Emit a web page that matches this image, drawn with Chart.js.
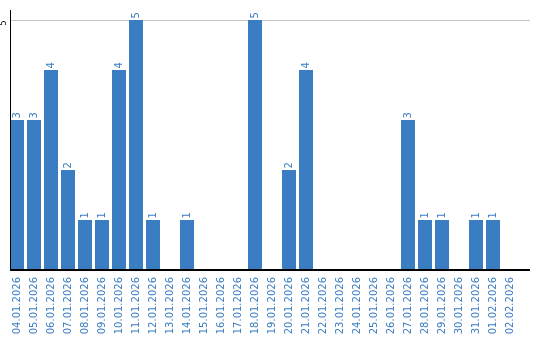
<!DOCTYPE html>
<html>
<head>
<meta charset="utf-8">
<script src="https://cdn.jsdelivr.net/npm/chart.js@4/dist/chart.umd.min.js"></script>
<style>
    html, body { margin: 0; padding: 0; background: #fff; }
    #wrap { width: 540px; height: 340px; }
</style>
</head>
<body>
<div id="wrap"><canvas id="chart"></canvas></div>
<script>
// Data
const dates = [
    '04.01.2026', '05.01.2026', '06.01.2026', '07.01.2026', '08.01.2026', '09.01.2026',
    '10.01.2026', '11.01.2026', '12.01.2026', '13.01.2026', '14.01.2026', '15.01.2026',
    '16.01.2026', '17.01.2026', '18.01.2026', '19.01.2026', '20.01.2026', '21.01.2026',
    '22.01.2026', '23.01.2026', '24.01.2026', '25.01.2026', '26.01.2026', '27.01.2026',
    '28.01.2026', '29.01.2026', '30.01.2026', '31.01.2026', '01.02.2026', '02.02.2026'
];
const counts = [3, 3, 4, 2, 1, 1, 4, 5, 1, 0, 1, 0, 0, 0, 5, 0, 2, 4, 0, 0, 0, 0, 0, 3, 1, 1, 0, 1, 1, 0];
const yTicks = [5];

const barColor = '#3a7dc2';
const font = "'DejaVu Sans', sans-serif";

// Axis lines, grid line at 5, y tick label and value labels
const decorPlugin = {
    id: 'decor',
    beforeDatasetsDraw(chart) {
        const ctx = chart.ctx;
        const y = chart.scales.y;
        const area = chart.chartArea;
        ctx.save();
        ctx.strokeStyle = '#c8c8c8';
        ctx.lineWidth = 1;
        yTicks.forEach(v => {
            const py = Math.round(y.getPixelForValue(v)) + 0.5;
            ctx.beginPath();
            ctx.moveTo(10, py);
            ctx.lineTo(530, py);
            ctx.stroke();
        });
        ctx.restore();
    },
    afterDatasetsDraw(chart) {
        const ctx = chart.ctx;
        const y = chart.scales.y;
        const area = chart.chartArea;
        const bottom = y.getPixelForValue(0);

        ctx.save();
        // y axis line
        ctx.strokeStyle = '#000';
        ctx.lineWidth = 1;
        ctx.beginPath();
        ctx.moveTo(10.5, area.top);
        ctx.lineTo(10.5, bottom);
        ctx.stroke();
        // x axis line
        ctx.lineWidth = 2;
        ctx.beginPath();
        ctx.moveTo(10, bottom);
        ctx.lineTo(530, bottom);
        ctx.stroke();

        // y tick labels
        ctx.fillStyle = '#000';
        ctx.font = '8px ' + font;
        ctx.textAlign = 'left';
        ctx.textBaseline = 'middle';
        yTicks.forEach(v => {
            ctx.save();
            ctx.translate(4, y.getPixelForValue(v) + 5.5);
            ctx.rotate(-Math.PI / 2);
            ctx.fillText(String(v), 0, 0);
            ctx.restore();
        });

        // value labels above bars
        ctx.fillStyle = barColor;
        ctx.font = '10px ' + font;
        const meta = chart.getDatasetMeta(0);
        meta.data.forEach((bar, i) => {
            if (!counts[i]) return;
            ctx.save();
            ctx.translate(bar.x, bar.y - 1.5);
            ctx.rotate(-Math.PI / 2);
            ctx.fillText(String(counts[i]), 0, 0);
            ctx.restore();
        });
        ctx.restore();
    }
};

new Chart(document.getElementById('chart'), {
    type: 'bar',
    data: {
        labels: dates,
        datasets: [{
            data: counts,
            backgroundColor: barColor,
            borderWidth: 0,
            barPercentage: 14 / 17,
            categoryPercentage: 1
        }]
    },
    options: {
        responsive: true,
        maintainAspectRatio: false,
        animation: false,
        layout: { padding: { top: 10, right: 21.5, left: 0, bottom: 0 } },
        plugins: {
            legend: { display: false },
            tooltip: { enabled: false }
        },
        scales: {
            x: {
                grid: { display: false, drawTicks: false },
                border: { display: false },
                ticks: {
                    color: barColor,
                    font: { family: font, size: 10 },
                    minRotation: 90,
                    maxRotation: 90,
                    autoSkip: false,
                    padding: 7
                },
                afterFit: s => { s.height = 70; }
            },
            y: {
                min: 0,
                max: 5.2,
                grid: { display: false, drawTicks: false },
                border: { display: false },
                ticks: { display: false },
                afterFit: s => { s.width = 8.5; }
            }
        }
    },
    plugins: [decorPlugin]
});
</script>
</body>
</html>
